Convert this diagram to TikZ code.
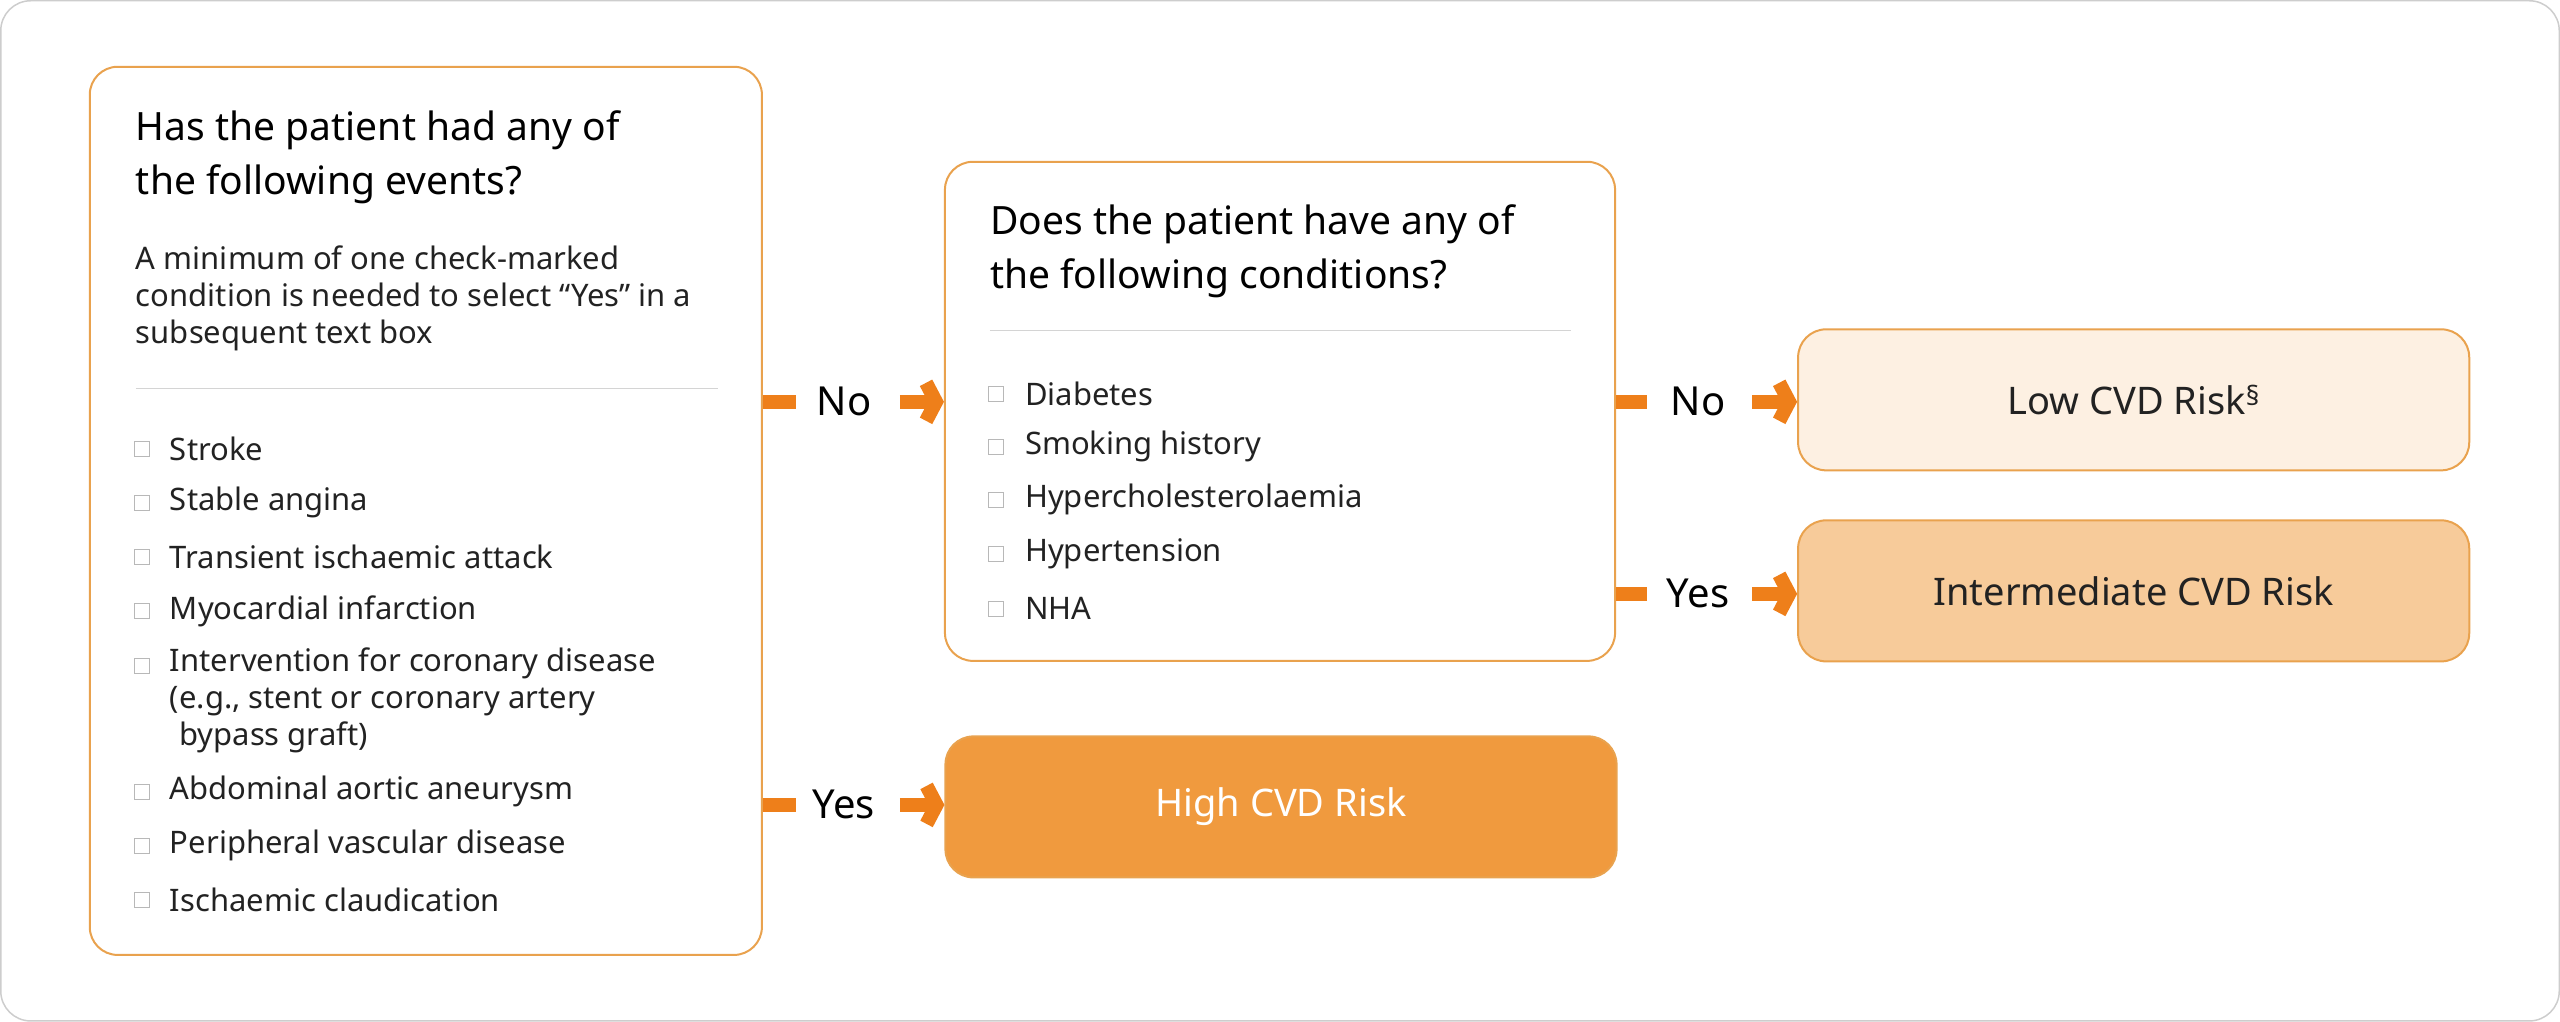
\documentclass[tikz,border=0pt]{standalone}
\usepackage{fontspec}
\setmainfont{Noto Sans}
\usetikzlibrary{arrows.meta,positioning}
\definecolor{boxline}{HTML}{E9A24E}
\definecolor{arrorange}{HTML}{EE7F1A}
\definecolor{highfill}{HTML}{F09A3E}
\definecolor{midfill}{HTML}{F7CB9A}
\definecolor{lowfill}{HTML}{FDF0E2}
\definecolor{boxgray}{HTML}{B8B8B8}
\definecolor{txt}{HTML}{222222}
\begin{document}
\begin{tikzpicture}[x=1pt,y=-1pt,
    box/.style={draw=boxline,line width=2pt,rounded corners=28pt,inner sep=0pt},
    result/.style={box,minimum width=671pt,minimum height=141pt,
                   font=\fontsize{38}{46}\selectfont\bfseries,text=txt},
    title/.style={anchor=west,align=left,font=\fontsize{39}{54}\selectfont\bfseries,text=black,inner sep=0pt},
    item/.style={anchor=west,align=left,font=\fontsize{31}{37}\selectfont,text=txt,inner sep=0pt},
    check/.style={draw=boxgray,line width=1.5pt,minimum size=15pt,inner sep=0pt},
    stub/.style={arrorange,line width=14pt},
    arr/.style={arrorange,line width=14pt,-{Straight Barb[length=10pt,width=38pt,line join=miter,line cap=butt]}},
    answer/.style={font=\fontsize{40}{40}\selectfont\bfseries,text=black}]
  \draw[boxgray!70,line width=1.5pt,rounded corners=30pt] (1,1) rectangle (2559,1021);

  % decision boxes
  \node[box,minimum width=672pt,minimum height=888pt] (events) at (426,511) {};
  \node[box,minimum width=670pt,minimum height=499pt] (conds) at (1280,411.5) {};

  % outcomes
  \node[result,fill=lowfill] (low) at (2133.5,400) {Low CVD Risk\textsuperscript{§}};
  \node[result,fill=midfill] (mid) at (2133.5,591) {Intermediate CVD Risk};
  \node[result,fill=highfill,text=white] (high) at (1281,807) {High CVD Risk};

  % first box
  \node[title] (evtitle) at (136,157) {Has the patient had any of\\the following events?};
  \node[item] (evnote) at (136,299) {A minimum of one check-marked\\condition is needed to select “Yes” in a\\subsequent text box};
  \draw[boxgray!60,line width=1.2pt] (136,389) -- (718,389);
  \foreach \y/\t in {449/Stroke,503/Stable angina,557/Transient ischaemic attack,
                     611/Myocardial infarction,792/Abdominal aortic aneurysm,
                     846/Peripheral vascular disease,900/Ischaemic claudication}
    \node[check] at (142,\y) {} node[item] at (170,\y) {\t};
  \node[check] at (142,666) {};
  \node[item,anchor=north west] (interv) at (170,648) {Intervention for coronary disease\\(e.g., stent or coronary artery\\\hspace{0.3em}bypass graft)};

  % second box
  \node[title] (cotitle) at (990,251) {Does the patient have any of\\the following conditions?};
  \draw[boxgray!60,line width=1.2pt] (990,331) -- (1571,331);
  \foreach \y/\t in {394/Diabetes,447/Smoking history,500/Hypercholesterolaemia,
                     554/Hypertension,609/NHA}
    \node[check] at (996,\y) {} node[item] at (1025,\y) {\t};

  % connectors
  \node[answer] (no1) at (844,402) {No};
  \node[answer] (yes1) at (844,805) {Yes};
  \node[answer] (no2) at (1698,402) {No};
  \node[answer] (yes2) at (1698,594) {Yes};
  \draw[stub] (events.east |- no1) -- ++(33,0);
  \draw[arr] (900,402) -- (conds.west |- no1);
  \draw[stub] (events.east |- yes1) -- ++(33,0);
  \draw[arr] (900,805) -- (high.west |- yes1);
  \draw[stub] (conds.east |- no2) -- ++(31,0);
  \draw[arr] (1752,402) -- (low.west |- no2);
  \draw[stub] (conds.east |- yes2) -- ++(31,0);
  \draw[arr] (1752,594) -- (mid.west |- yes2);
\end{tikzpicture}
\end{document}
